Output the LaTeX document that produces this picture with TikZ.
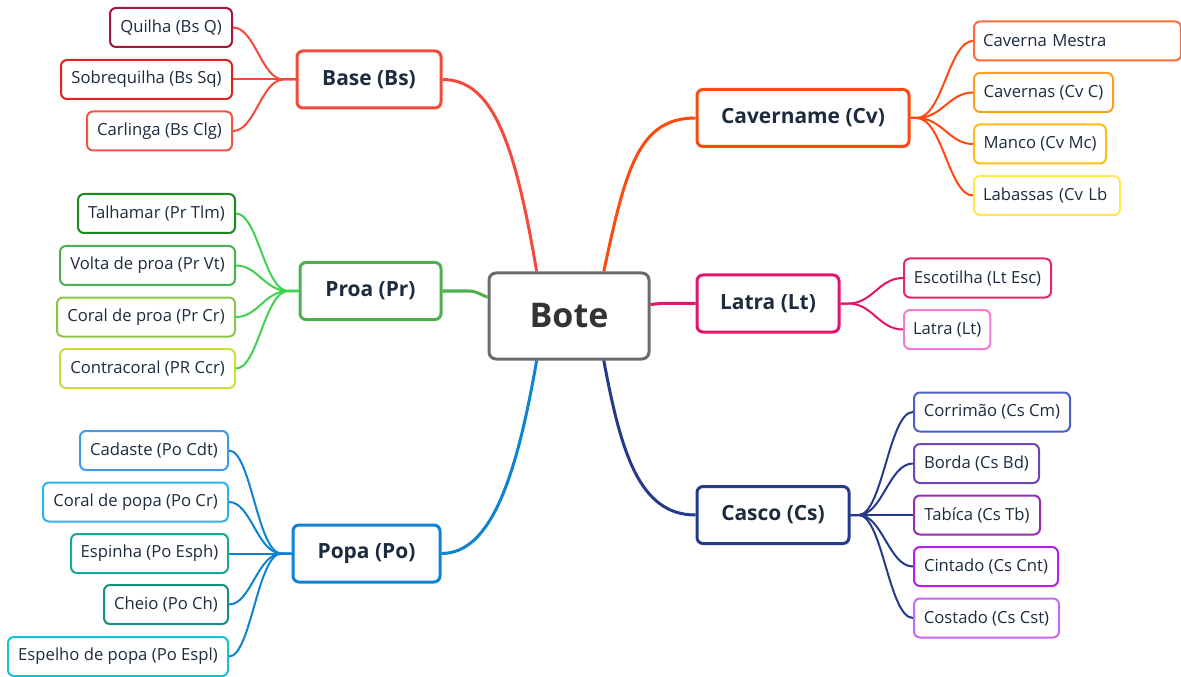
\documentclass[tikz,border=0pt]{standalone}
\usepackage{fontspec}
\setmainfont{Open Sans}
\usetikzlibrary{calc}
\newlength\px \setlength\px{0.75pt}
\definecolor{rootc}{HTML}{6B6B6B}
\definecolor{roottxt}{HTML}{333333}
\definecolor{txt}{HTML}{1D2B3F}
\definecolor{cBase}{HTML}{F4493B}
\definecolor{cQ}{HTML}{A8143A}
\definecolor{cSq}{HTML}{E0221E}
\definecolor{cClg}{HTML}{F25546}
\definecolor{cProa}{HTML}{4CAF50}
\definecolor{cProaLine}{HTML}{3ED24E}
\definecolor{cTlm}{HTML}{1B8A1F}
\definecolor{cVt}{HTML}{4CAF50}
\definecolor{cPrCr}{HTML}{8BC34A}
\definecolor{cCcr}{HTML}{CDDC39}
\definecolor{cPopa}{HTML}{0F82D0}
\definecolor{cCdt}{HTML}{3D9BEB}
\definecolor{cPoCr}{HTML}{27B4F0}
\definecolor{cEsph}{HTML}{1AA596}
\definecolor{cCh}{HTML}{15907E}
\definecolor{cEspl}{HTML}{18BFD8}
\definecolor{cCv}{HTML}{FF4A0E}
\definecolor{cCm}{HTML}{FF6A3A}
\definecolor{cCc}{HTML}{FF9F1C}
\definecolor{cMc}{HTML}{FFBD0F}
\definecolor{cLb}{HTML}{FFE84A}
\definecolor{cLt}{HTML}{E2146C}
\definecolor{cEsc}{HTML}{E9246B}
\definecolor{cLtl}{HTML}{F47AD9}
\definecolor{cCs}{HTML}{263A8C}
\definecolor{cCrm}{HTML}{4A5EC7}
\definecolor{cBd}{HTML}{6F45B8}
\definecolor{cTb}{HTML}{9A2AB0}
\definecolor{cCnt}{HTML}{B41EF2}
\definecolor{cCst}{HTML}{C769F2}
\begin{document}
\begin{tikzpicture}[x=0.75pt,y=-0.75pt,
  root/.style={draw=rootc, line width=3\px, rounded corners=7\px, fill=white,
    minimum width=160\px, minimum height=86\px, inner sep=0pt,
    font=\fontsize{25.5}{30}\selectfont\bfseries, text=roottxt},
  mainbox/.style={draw=#1, line width=3\px, rounded corners=6\px, fill=white,
    minimum height=57\px, inner sep=0pt,
    font=\fontsize{15.7}{18}\selectfont\bfseries, text=txt},
  kid/.style={draw=#1, line width=2\px, rounded corners=6\px, fill=white,
    minimum height=39\px, inner xsep=9\px, inner ysep=0pt,
    font=\fontsize{12.5}{14}\selectfont, text=txt},
  mainline/.style={draw=#1, line width=3\px},
  kidline/.style={draw=#1, line width=2\px}]
\useasboundingbox (0,0) rectangle (1181,677);

% root and main topics
\node[root] (bote) at (569,316) {Bote};
\node[mainbox=cBase, minimum width=144\px] (bs) at (369,79.5) {Base (Bs)};
\node[mainbox=cProa, minimum width=141\px] (pr) at (370.5,291) {Proa (Pr)};
\node[mainbox=cPopa, minimum width=147\px] (po) at (366.5,553.5) {Popa (Po)};
\node[mainbox=cCv, minimum width=212\px] (cv) at (803,118) {Cavername (Cv)};
\node[mainbox=cLt, minimum width=142\px] (lt) at (768,303.5) {Latra (Lt)};
\node[mainbox=cCs, minimum width=152\px] (cs) at (773,515) {Casco (Cs)};

% Base children
\node[kid=cQ, minimum width=122\px, anchor=east] (q) at (233,27.5) {Quilha (Bs Q)};
\node[kid=cSq, minimum width=171\px, anchor=east] (sq) at (233,79.5) {Sobrequilha (Bs Sq)};
\node[kid=cClg, minimum width=145\px, anchor=east] (clg) at (233,131) {Carlinga (Bs Clg)};

% Proa children
\node[kid=cTlm, minimum width=157\px, anchor=east] (tlm) at (236,213.5) {Talhamar (Pr Tlm)};
\node[kid=cVt, minimum width=175\px, anchor=east] (vt) at (236,265.5) {Volta de proa (Pr Vt)};
\node[kid=cPrCr, minimum width=178\px, anchor=east] (prcr) at (236,317) {Coral de proa (Pr Cr)};
\node[kid=cCcr, minimum width=175\px, anchor=east] (ccr) at (236,368.5) {Contracoral (PR Ccr)};

% Popa children
\node[kid=cCdt, minimum width=148\px, anchor=east] (cdt) at (229,450.5) {Cadaste (Po Cdt)};
\node[kid=cPoCr, minimum width=185\px, anchor=east] (pocr) at (229,502) {Coral de popa (Po Cr)};
\node[kid=cEsph, minimum width=157\px, anchor=east] (esph) at (229,553.5) {Espinha (Po Esph)};
\node[kid=cCh, minimum width=124\px, anchor=east] (ch) at (229,604.5) {Cheio (Po Ch)};
\node[kid=cEspl, minimum width=220\px, anchor=east] (espl) at (229,656.5) {Espelho de popa (Po Espl)};

% Cavername children
\node[kid=cCm, text width=189\px, align=left, anchor=west] (cm) at (973,41) {Caverna Mestra};
\node[kid=cCc, minimum width=139\px, anchor=west] (cc) at (973,92.5) {Cavernas (Cv C)};
\node[kid=cMc, minimum width=132\px, anchor=west] (mc) at (973,144) {Manco (Cv Mc)};
\node[kid=cLb, text width=128\px, align=left, anchor=west] (lb) at (973,195.5) {Labassas (Cv Lb};

% Latra children
\node[kid=cEsc, minimum width=147\px, anchor=west] (esc) at (903,278) {Escotilha (Lt Esc)};
\node[kid=cLtl, minimum width=86\px, anchor=west] (ltl) at (903,329.5) {Latra (Lt)};

% Casco children
\node[kid=cCrm, minimum width=156\px, anchor=west] (crm) at (913,412) {Corrimão (Cs Cm)};
\node[kid=cBd, minimum width=125\px, anchor=west] (bd) at (913,463.5) {Borda (Cs Bd)};
\node[kid=cTb, minimum width=126\px, anchor=west] (tb) at (913,515) {Tabíca (Cs Tb)};
\node[kid=cCnt, minimum width=144\px, anchor=west] (cnt) at (913,566.5) {Cintado (Cs Cnt)};
\node[kid=cCst, minimum width=145\px, anchor=west] (cst) at (913,618) {Costado (Cs Cst)};

% main connectors
\draw[mainline=cBase] (bote.126) .. controls +(-22,-130) and +(50,0) .. (bs.east);
\draw[mainline=cCv] (bote.52) .. controls +(22,-103) and +(-57,0) .. (cv.west);
\draw[mainline=cPopa] (bote.234) .. controls +(-20,115) and +(50,0) .. (po.east);
\draw[mainline=cCs] (bote.308) .. controls +(17,90) and +(-57,0) .. (cs.west);
\draw[mainline=cLt] (bote.8) .. controls +(14,-2) and +(-22,0) .. (lt.west);
\draw[mainline=cProa] (pr.east) -- ++(26,0) .. controls +(8,0) and +(-8,-3) .. (bote.167);

% child connectors
\foreach \c in {q,sq,clg}
  \draw[kidline=cBase] (bs.west) -- ++(-12,0) .. controls +(-22,0) and +(22,0) .. (\c.east);
\foreach \c in {tlm,vt,prcr,ccr}
  \draw[kidline=cProaLine] (pr.west) -- ++(-10,0) .. controls +(-24,0) and +(22,0) .. (\c.east);
\foreach \c in {cdt,pocr,esph,ch,espl}
  \draw[kidline=cPopa] (po.west) -- ++(-10,0) .. controls +(-24,0) and +(22,0) .. (\c.east);
\foreach \c in {cm,cc,mc,lb}
  \draw[kidline=cCv] (cv.east) -- ++(6,0) .. controls +(26,0) and +(-24,0) .. (\c.west);
\foreach \c in {esc,ltl}
  \draw[kidline=cLt] (lt.east) -- ++(8,0) .. controls +(24,0) and +(-24,0) .. (\c.west);
\foreach \c in {crm,bd,tb,cnt,cst}
  \draw[kidline=cCs] (cs.east) -- ++(8,0) .. controls +(24,0) and +(-24,0) .. (\c.west);
\end{tikzpicture}
\end{document}
